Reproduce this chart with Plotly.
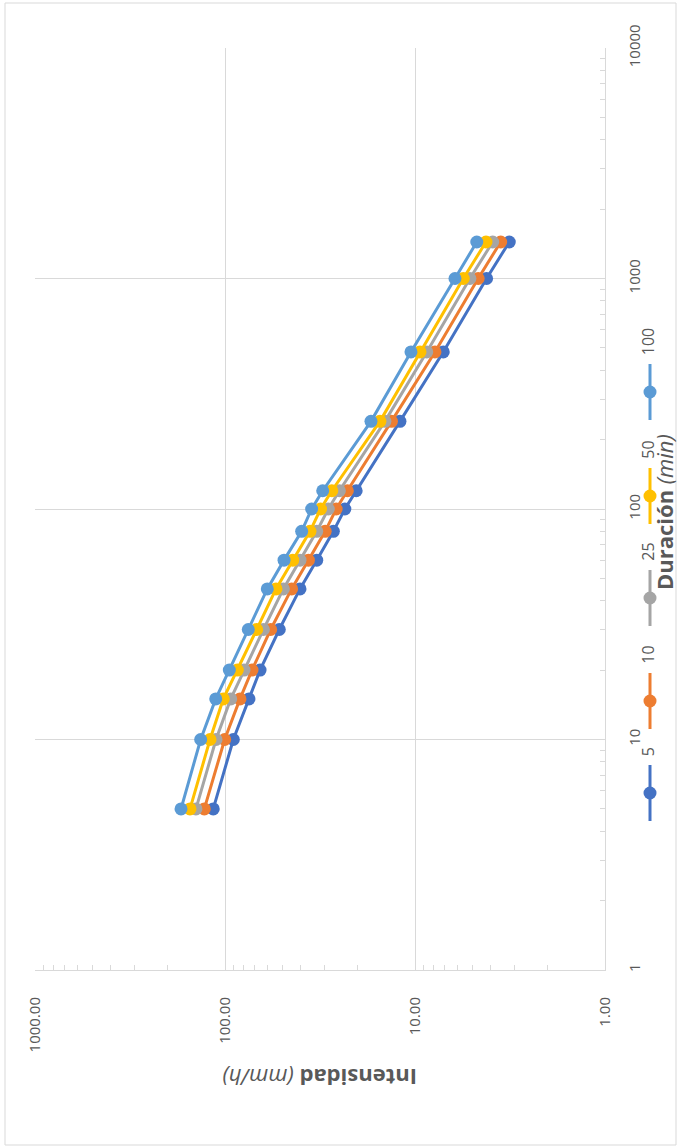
import plotly.graph_objects as go

durations = [5, 10, 15, 20, 30, 45, 60, 80, 100, 120, 240, 480, 1000, 1440]
series_names = ["5", "10", "25", "50", "100"]
intensity_T5 = [115.3, 90.4, 74.8, 65.4, 51.8, 40.3, 32.9, 26.9, 23.4, 20.4, 12.0, 7.10, 4.20, 3.19]
intensity_T10 = [128.5, 100.4, 83.4, 72.1, 57.5, 44.6, 36.4, 29.7, 26.0, 22.7, 13.3, 7.85, 4.65, 3.54]
intensity_T25 = [142.2, 111.5, 93.3, 79.4, 62.8, 49.3, 40.3, 32.9, 28.6, 25.0, 14.4, 8.67, 5.14, 3.90]
intensity_T50 = [152.8, 119.9, 102.1, 86.1, 68.1, 53.9, 44.0, 35.7, 31.4, 27.4, 15.3, 9.41, 5.57, 4.23]
intensity_T100 = [170.4, 134.3, 111.9, 94.9, 75.4, 59.9, 48.9, 39.5, 35.0, 30.6, 17.05, 10.5, 6.16, 4.73]
colors = ["#4472C4", "#ED7D31", "#A5A5A5", "#FFC000", "#5B9BD5"]

all_series = [intensity_T5, intensity_T10, intensity_T25, intensity_T50, intensity_T100]

W, H = 679, 1148
L, R, T, B = 35, 74, 48, 178
pw, ph = W - L - R, H - T - B

def px2paper_x(px):
    return (px - L) / pw

def py2paper_y(py):
    return (H - B - py) / ph

fig = go.Figure()
for name, vals, col in zip(series_names, all_series, colors):
    fig.add_trace(go.Scatter(
        x=vals, y=durations, name=name, mode="lines+markers",
        line=dict(color=col, width=3),
        marker=dict(color=col, size=13),
        showlegend=False,
    ))

FAM = "Open Sans, Liberation Sans, sans-serif"
tick_font = dict(family=FAM, size=15, color="#595959")
leg_font = dict(family=FAM, size=16, color="#595959")
grid = "#d9d9d9"

fig.update_layout(
    width=W, height=H,
    margin=dict(l=L, r=R, t=T, b=B),
    paper_bgcolor="white", plot_bgcolor="white",
    xaxis=dict(
        type="log", range=[3, 0], dtick=1, tickformat=".2f",
        tickangle=-90, tickfont=tick_font, ticklabelstandoff=20,
        showgrid=True, gridcolor=grid, gridwidth=1,
        showline=True, linecolor=grid, linewidth=1,
        ticks="", zeroline=False,
        minor=dict(ticks="inside", ticklen=5, tickcolor=grid, dtick="D1", showgrid=False),
    ),
    yaxis=dict(
        type="log", range=[0, 4], dtick=1, tickformat="d", side="right",
        tickangle=-90, tickfont=tick_font, ticklabelstandoff=16,
        showgrid=True, gridcolor=grid, gridwidth=1,
        showline=True, linecolor=grid, linewidth=1,
        ticks="", zeroline=False,
        minor=dict(ticks="inside", ticklen=5, tickcolor=grid, dtick="D1", showgrid=False),
    ),
)

# outer chart border
fig.add_shape(type="rect", xref="paper", yref="paper",
              x0=px2paper_x(5), x1=px2paper_x(676), y0=py2paper_y(1145), y1=py2paper_y(3),
              line=dict(color="#d9d9d9", width=1), fillcolor="rgba(0,0,0,0)", layer="below")

# axis titles (rotated chart)
fig.add_annotation(xref="paper", yref="paper", x=0.5, y=py2paper_y(1095),
                   text="<b>Intensidad</b> <i>(mm/h)</i>", textangle=180, showarrow=False,
                   font=dict(family=FAM, size=22, color="#595959"))
fig.add_annotation(xref="paper", yref="paper", x=px2paper_x(681), y=py2paper_y(512),
                   xanchor="right", yanchor="middle",
                   text="<b>Duración</b> <i>(min)</i>", textangle=-90, showarrow=False,
                   font=dict(family=FAM, size=22, color="#595959"))

# legend drawn vertically
legend_centers = [793, 701, 598, 496, 392]
lx = px2paper_x(650)
for name, col, cy in zip(series_names, colors, legend_centers):
    fig.add_shape(type="line", xref="paper", yref="paper",
                  x0=lx, x1=lx, y0=py2paper_y(cy + 28), y1=py2paper_y(cy - 28),
                  line=dict(color=col, width=3))
    fig.add_shape(type="circle", xref="paper", yref="paper",
                  xsizemode="pixel", ysizemode="pixel", xanchor=lx, yanchor=py2paper_y(cy),
                  x0=-6.5, x1=6.5, y0=-6.5, y1=6.5,
                  line=dict(color=col, width=0), fillcolor=col)
    fig.add_annotation(xref="paper", yref="paper", x=lx - 0.004, y=py2paper_y(cy - 35),
                       yanchor="bottom", xanchor="center",
                       text=name, textangle=-90, showarrow=False, font=leg_font)

fig.write_html("out.html", config={"displayModeBar": False},
               post_script="document.body.style.margin='0';document.body.style.overflow='hidden';")
